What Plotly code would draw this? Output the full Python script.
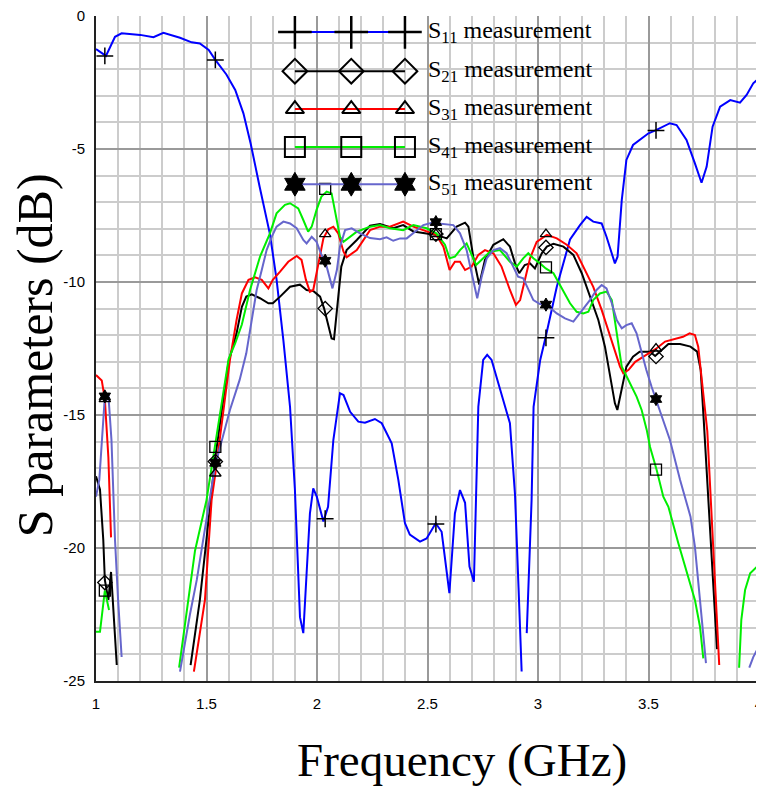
import plotly.graph_objects as go

# ---------------- data ----------------
s11_f = [1.0, 1.045, 1.086, 1.116, 1.2, 1.26, 1.305, 1.38, 1.433, 1.47, 1.51, 1.54, 1.59, 1.63, 1.667, 1.70, 1.74,
         1.787, 1.817, 1.848, 1.878, 1.90, 1.923, 1.938, 1.953, 1.968, 1.983, 1.999, 2.029, 2.05, 2.074, 2.104, 2.12,
         2.15, 2.187, 2.217, 2.262, 2.293, 2.338, 2.368, 2.398, 2.42, 2.466, 2.496, 2.537, 2.564, 2.599, 2.624, 2.647,
         2.67, 2.69, 2.71, 2.73, 2.752, 2.77, 2.79, 2.873, 2.896, 2.912, 2.926, None, 2.949, 2.971, 2.98, 3.01, 3.035,
         3.085, 3.145, 3.19, 3.22, 3.25, 3.288, 3.31, 3.348, 3.36, 3.379, 3.40, 3.43, 3.50, 3.534, 3.597, 3.627,
         3.672, 3.71, 3.74, 3.763, 3.79, 3.824, 3.87, 3.914, 3.944, 3.974, 4.0]
s11_db = [-1.24, -1.5, -0.78, -0.65, -0.71, -0.8, -0.63, -0.82, -0.99, -1.03, -1.28, -1.65, -2.2, -2.78, -3.66, -4.8,
          -6.4, -8.2, -9.9, -12.2, -14.7, -17.8, -22.6, -23.2, -20.95, -18.7, -17.76, -18.07, -19.0, -18.45, -15.94,
          -14.18, -14.25, -14.88, -15.25, -15.29, -15.15, -15.31, -16.06, -17.44, -19.07, -19.5, -19.76, -19.64,
          -19.07, -19.39, -21.7, -18.7, -17.82, -18.3, -20.7, -21.27, -14.69, -12.93, -12.74, -12.93, -15.31, -18.0,
          -21.5, -24.64, None, -23.2, -18.2, -14.69, -12.93, -12.06, -10.18, -8.4, -7.86, -7.55, -7.73, -7.8, -8.3,
          -9.3, -9.05, -6.92, -5.41, -4.85, -4.41, -4.29, -4.03, -4.1, -4.66, -5.54, -6.27, -5.67, -4.16, -3.41,
          -3.16, -3.26, -2.97, -2.53, -2.34]

s21_f = [1.0, 1.018, 1.033, 1.04, 1.056, 1.068, 1.075, 1.094, None, 1.428, 1.47, 1.51, 1.538, 1.6, 1.636, 1.66,
         1.68, 1.705, 1.742, 1.78, 1.80, 1.833, 1.878, 1.923, 1.953, 1.983, 2.014, 2.032, 2.05, 2.066, 2.077, 2.089,
         2.11, 2.134, 2.18, 2.24, 2.285, 2.345, 2.39, 2.436, 2.496, 2.54, 2.587, 2.632, 2.67, 2.685, 2.707, 2.734,
         2.76, 2.798, 2.843, 2.873, 2.896, 2.915, 2.94, 2.964, 2.986, 3.017, 3.04, 3.07, 3.115, 3.16, 3.198, 3.235,
         3.273, 3.303, 3.326, 3.348, 3.359, 3.379, 3.40, 3.43, 3.46, 3.507, 3.53, 3.56, 3.59, 3.643, 3.69, 3.72,
         3.736, 3.75, 3.81]
s21_db = [-17.3, -17.8, -19.7, -21.2, -21.95, -20.9, -21.83, -24.4, None, -24.4, -21.95, -18.9, -16.7, -13.0, -11.93,
          -10.93, -10.55, -10.46, -10.61, -10.8, -10.8, -10.55, -10.18, -10.1, -10.3, -10.34, -10.55, -10.99, -11.55,
          -12.12, -12.15, -11.18, -9.42, -8.8, -8.42, -7.88, -7.82, -7.98, -7.86, -8.1, -8.17, -8.23, -8.36, -7.92,
          -7.77, -7.92, -9.05, -10.1, -9.17, -8.6, -8.39, -8.67, -9.3, -9.67, -9.36, -9.3, -9.49, -8.92, -8.67, -8.56,
          -8.67, -8.98, -9.67, -10.55, -11.43, -12.43, -13.56, -14.56, -14.81, -14.06, -13.18, -12.81, -12.62, -12.62,
          -12.78, -12.56, -12.33, -12.33, -12.43, -12.62, -13.3, -15.2, -23.8]

s31_f = [1.0, 1.026, 1.04, 1.056, 1.068, None, 1.443, 1.493, 1.523, 1.54, 1.606, 1.636, 1.66, 1.69, 1.72, 1.75,
         1.78, 1.80, 1.833, 1.87, 1.908, 1.93, 1.95, 1.968, 1.983, 2.006, 2.029, 2.051, 2.074, 2.096, 2.12, 2.134,
         2.18, 2.24, 2.285, 2.33, 2.39, 2.436, 2.496, 2.54, 2.572, 2.60, 2.624, 2.647, 2.67, 2.70, 2.73, 2.76, 2.798,
         2.835, 2.873, 2.90, 2.919, 2.94, 2.964, 2.994, 3.04, 3.085, 3.13, 3.175, 3.213, 3.25, 3.288, 3.318, 3.348,
         3.371, 3.386, 3.41, 3.44, 3.476, 3.507, 3.537, 3.575, 3.61, 3.656, 3.686, 3.71, 3.725, 3.736, 3.75, 3.766,
         3.82]
s31_db = [-13.5, -13.7, -14.4, -16.6, -19.6, None, -24.65, -21.95, -18.2, -17.2, -12.93, -11.43, -10.43, -9.92,
          -9.82, -9.92, -10.24, -9.92, -9.61, -9.24, -9.02, -9.17, -9.92, -10.37, -10.3, -9.3, -8.36, -8.02, -7.92,
          -8.17, -8.86, -9.07, -8.8, -8.05, -7.92, -7.92, -7.73, -7.92, -8.1, -8.23, -8.67, -9.55, -9.24, -9.24,
          -9.55, -9.42, -8.98, -8.8, -8.92, -9.42, -10.3, -10.86, -10.68, -9.92, -9.11, -8.49, -8.23, -8.36, -8.6,
          -8.92, -9.55, -10.18, -11.05, -11.8, -12.56, -13.18, -13.43, -13.3, -13.0, -12.81, -12.68, -12.49, -12.24,
          -12.15, -12.06, -11.93, -11.99, -12.43, -13.3, -14.56, -15.6, -24.4]

s41_f = [1.0, 1.018, 1.04, 1.059, None, 1.376, 1.418, 1.448, 1.5, 1.538, 1.60, 1.63, 1.66, 1.697, 1.72, 1.742,
         1.765, 1.787, 1.817, 1.855, 1.878, 1.915, 1.938, 1.96, 1.976, 1.998, 2.02, 2.044, 2.066, 2.09, 2.104, 2.12,
         2.15, 2.18, 2.24, 2.285, 2.33, 2.39, 2.436, 2.496, 2.54, 2.579, 2.60, 2.624, 2.647, 2.677, 2.70, 2.72,
         2.752, 2.783, 2.828, 2.873, 2.904, 2.933, 2.956, 2.979, 3.009, 3.035, 3.07, 3.1, 3.145, 3.175, 3.205, 3.228,
         3.25, 3.28, 3.31, 3.334, 3.348, 3.363, 3.379, 3.394, 3.416, 3.446, 3.469, 3.492, 3.507, 3.537, 3.567, 3.59,
         3.635, 3.672, 3.71, 3.733, 3.748, None, 3.91, 3.92, 3.937, 3.96, 3.998]
s41_db = [-23.15, -23.15, -21.6, -22.33, None, -24.5, -21.95, -20.1, -18.2, -16.2, -12.9, -12.3, -11.6, -10.3,
          -9.67, -9.05, -8.6, -8.17, -7.42, -7.1, -7.04, -7.23, -7.67, -8.11, -7.92, -7.29, -6.79, -6.6, -6.67, -7.67,
          -8.3, -8.49, -8.3, -8.11, -7.92, -7.86, -7.98, -8.05, -7.86, -7.98, -8.17, -8.6, -9.11, -9.05, -8.8, -8.55,
          -8.98, -9.36, -9.11, -8.86, -8.8, -9.24, -9.42, -9.11, -8.92, -9.11, -9.3, -9.49, -9.67, -10.1, -10.8,
          -11.12, -11.18, -11.12, -10.68, -10.43, -10.36, -10.68, -11.43, -12.18, -13.18, -13.43, -13.81, -14.31,
          -14.81, -15.56, -16.2, -17.07, -18.07, -18.45, -19.82, -20.83, -21.95, -22.96, -24.15, None, -24.5, -22.7,
          -21.58, -20.95, -20.64]

s51_f = [1.0, 1.015, 1.04, 1.056, 1.07, 1.086, 1.10, 1.116, None, 1.38, 1.425, 1.456, 1.508, 1.538, 1.606, 1.65,
         1.68, 1.705, 1.727, 1.75, 1.772, 1.795, 1.817, 1.848, 1.878, 1.908, 1.938, 1.953, 1.976, 1.998, 2.02, 2.037,
         2.056, 2.07, 2.09, 2.104, 2.127, 2.157, 2.195, 2.24, 2.285, 2.315, 2.345, 2.376, 2.406, 2.443, 2.481, 2.52,
         2.587, 2.617, 2.647, 2.677, 2.70, 2.715, 2.725, 2.745, 2.768, 2.798, 2.828, 2.858, 2.888, 2.91, 2.933,
         2.956, 2.979, 3.009, 3.04, 3.085, 3.122, 3.16, 3.19, 3.235, 3.265, 3.288, 3.31, 3.334, 3.356, 3.379, 3.40,
         3.424, 3.446, 3.469, 3.49, 3.514, 3.534, 3.56, 3.597, 3.643, 3.69, 3.71, 3.725, 3.74, 3.76, None, 3.956,
         3.974, 4.0]
s51_db = [-18.07, -17.44, -14.31, -14.25, -15.94, -19.7, -21.95, -24.1, None, -24.65, -22.5, -21.2, -18.45, -16.94,
          -14.81, -13.68, -12.68, -11.43, -10.3, -9.55, -8.8, -8.3, -7.92, -7.73, -7.8, -7.98, -8.42, -8.55, -8.3,
          -8.49, -8.98, -9.21, -9.8, -10.24, -9.55, -8.67, -8.05, -7.98, -8.17, -8.35, -8.39, -8.32, -8.45, -8.36,
          -8.36, -8.11, -7.86, -7.77, -7.82, -7.86, -8.17, -8.8, -9.67, -10.3, -10.61, -9.8, -9.11, -8.8, -8.73,
          -8.92, -9.42, -9.8, -9.86, -10.24, -10.68, -10.83, -10.86, -11.18, -11.37, -11.49, -11.18, -10.68, -10.3,
          -10.11, -10.24, -10.8, -11.43, -11.74, -11.62, -11.55, -11.93, -12.68, -13.3, -13.94, -14.44, -15.06,
          -15.94, -17.44, -18.82, -19.95, -21.2, -22.7, -24.33, None, -24.5, -24.1, -23.7]

marker_f = [1.04, 1.54, 2.037, 2.538, 3.036, 3.534]
s11_mk = [-1.5, -1.65, -18.9, -19.1, -12.1, -4.3]
s21_mk = [-21.3, -16.75, -11.0, -8.2, -8.7, -12.8]
s31_mk = [-14.4, -17.2, -8.2, -8.2, -8.2, -12.5]
s41_mk = [-21.6, -16.2, -6.5, -8.2, -9.45, -17.05]
s51_mk = [-14.3, -16.8, -9.2, -7.75, -10.85, -14.4]

legend_labels = ["S<sub>11</sub> measurement", "S<sub>21</sub> measurement", "S<sub>31</sub> measurement",
                 "S<sub>41</sub> measurement", "S<sub>51</sub> measurement"]
x_ticks = [1, 1.5, 2, 2.5, 3, 3.5, 4]
x_ticktext = ["1", "1.5", "2", "2.5", "3", "3.5", "4"]
y_ticks = [0, -5, -10, -15, -20, -25]
y_ticktext = ["0", "-5", "-10", "-15", "-20", "-25"]

# ---------------- styles ----------------
series = [
    (s11_f, s11_db, s11_mk, "#0000ff", "cross-thin-open", 12, 24, 1.5, 2.5),
    (s21_f, s21_db, s21_mk, "#000000", "diamond-open", 11, 19, 1.3, 2),
    (s31_f, s31_db, s31_mk, "#ff0000", "triangle-up-open", 10, 16, 1.3, 2),
    (s41_f, s41_db, s41_mk, "#00ee00", "square-open", 11, 20, 1.3, 2),
    (s51_f, s51_db, s51_mk, "#6666cc", "hexagram", 10, 18, 1, 1),
]

fig = go.Figure()
for f, db, mk, col, sym, msz, lsz, mw, lw in series:
    fig.add_trace(go.Scatter(x=f, y=db, mode="lines", line=dict(color=col, width=2),
                             connectgaps=False, showlegend=False, hoverinfo="skip"))
for f, db, mk, col, sym, msz, lsz, mw, lw in series:
    fig.add_trace(go.Scatter(x=marker_f, y=mk, mode="markers",
                             marker=dict(symbol=sym, size=msz, color="black",
                                         line=dict(color="black", width=mw)),
                             showlegend=False, hoverinfo="skip"))

# custom legend drawn on an overlay axis pair (0..1 = plot area)
leg_x = [0.300, 0.385, 0.466]
leg_y = [0.976, 0.917, 0.860, 0.803, 0.747]
for i, (f, db, mk, col, sym, msz, lsz, mw, lw) in enumerate(series):
    fig.add_trace(go.Scatter(x=[leg_x[0], leg_x[2]], y=[leg_y[i]] * 2, mode="lines",
                             line=dict(color=col, width=2), xaxis="x2", yaxis="y2",
                             showlegend=False, hoverinfo="skip"))
    fig.add_trace(go.Scatter(x=leg_x, y=[leg_y[i]] * 3, mode="markers",
                             marker=dict(symbol=sym, size=lsz, color="black",
                                         line=dict(color="black", width=lw)),
                             xaxis="x2", yaxis="y2", showlegend=False, hoverinfo="skip"))
    fig.add_annotation(x=0.497, y=leg_y[i], xref="paper", yref="paper", text=legend_labels[i],
                       showarrow=False, xanchor="left", yanchor="middle",
                       font=dict(family="Liberation Serif, Times New Roman, serif", size=24, color="black"))

tick_font = dict(family="Liberation Sans, Arial, sans-serif", size=15, color="black")
# the page body adds an 8px offset, so the figure is 8px smaller than the window
fig.update_layout(
    width=756, height=781,
    margin=dict(l=88, r=5, t=8, b=108, autoexpand=False),
    paper_bgcolor="white", plot_bgcolor="white",
    showlegend=False,
    xaxis=dict(range=[1, 4], tickvals=x_ticks, ticktext=x_ticktext, tickfont=tick_font, automargin=False,
               ticklabeloverflow="allow",
               showgrid=True, gridcolor="#9a9a9a", gridwidth=2,
               minor=dict(dtick=0.1, tick0=1, showgrid=True, gridcolor="#cccccc", gridwidth=2),
               ticks="outside", ticklen=8, tickcolor="rgba(0,0,0,0)",
               showline=True, linecolor="#222222", linewidth=2, mirror=False, zeroline=False),
    yaxis=dict(range=[-25, 0], tickvals=y_ticks, ticktext=y_ticktext, tickfont=tick_font, automargin=False,
               ticklabeloverflow="allow",
               showgrid=True, gridcolor="#9a9a9a", gridwidth=2,
               minor=dict(dtick=1, tick0=0, showgrid=True, gridcolor="#cccccc", gridwidth=2),
               ticks="outside", ticklen=6, tickcolor="rgba(0,0,0,0)",
               showline=True, linecolor="#222222", linewidth=2, mirror=True, zeroline=False),
    xaxis2=dict(range=[0, 1], overlaying="x", visible=False, fixedrange=True, automargin=False),
    yaxis2=dict(range=[0, 1], overlaying="y", visible=False, fixedrange=True, automargin=False),
)

fig.add_annotation(x=0.552, y=-0.119, xref="paper", yref="paper", text="Frequency (GHz)",
                   showarrow=False, xanchor="center", yanchor="middle",
                   font=dict(family="Liberation Serif, Times New Roman, serif", size=47, color="black"))
fig.add_annotation(x=-0.092, y=0.49, xref="paper", yref="paper", text="S parameters (dB)",
                   showarrow=False, xanchor="center", yanchor="middle", textangle=-90,
                   font=dict(family="Liberation Serif, Times New Roman, serif", size=50, color="black"))

fig.write_html("out.html")
